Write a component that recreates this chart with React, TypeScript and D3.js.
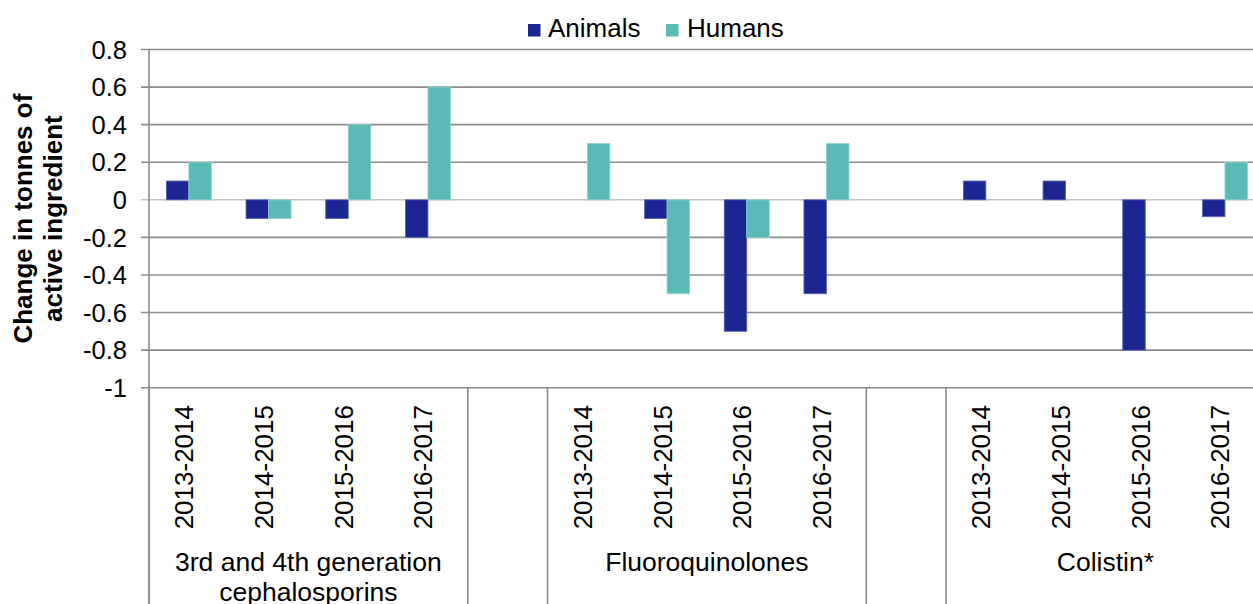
import React from "react";
import * as d3 from "d3";

const groupLabels: string[][] = [
  ["3rd and 4th generation", "cephalosporins"],
  ["Fluoroquinolones"],
  ["Colistin*"],
];
const periods = ["2013-2014", "2014-2015", "2015-2016", "2016-2017"];
const animals = [0.1, -0.1, -0.1, -0.2, 0, -0.1, -0.7, -0.5, 0.1, 0.1, -0.8, -0.09];
const humans = [0.2, -0.1, 0.4, 0.6, 0.3, -0.5, -0.2, 0.3, 0, 0, 0, 0.2];
const seriesNames = ["Animals", "Humans"];
const seriesColors = ["#1b2690", "#5bbab5"];
const seriesStroke = ["#5a62b4", "#8fd2ce"];
const yTicks = [0.8, 0.6, 0.4, 0.2, 0, -0.2, -0.4, -0.6, -0.8, -1];
const yTickLabels = ["0.8", "0.6", "0.4", "0.2", "0", "-0.2", "-0.4", "-0.6", "-0.8", "-1"];
const yTitle = ["Change in tonnes of", "active ingredient"];

const W = 1253;
const H = 604;
const FONT = "'Liberation Sans', Arial, Helvetica, sans-serif";

export default function App() {
  const left = 149;
  const slotW = 79.7;
  const top = 49.5;
  const bottom = 387.7;

  // slot keys: 4 per group, one empty slot between groups
  const slots: string[] = [];
  groupLabels.forEach((_, g) => {
    periods.forEach((p) => slots.push(`${g}|${p}`));
    if (g < groupLabels.length - 1) slots.push(`gap${g}`);
  });

  const x = d3
    .scaleBand<string>()
    .domain(slots)
    .range([left, left + slots.length * slotW])
    .padding(0);
  const inner = d3
    .scaleBand<string>()
    .domain(seriesNames)
    .range([0, x.bandwidth()])
    .paddingInner(0)
    .paddingOuter(0.771);
  const y = d3.scaleLinear().domain([-1, 0.8]).range([bottom, top]);

  const rows = groupLabels.flatMap((_, g) =>
    periods.map((p, i) => ({
      key: `${g}|${p}`,
      period: p,
      values: [animals[g * 4 + i], humans[g * 4 + i]],
    }))
  );

  // separators
  const seps: number[] = [left];
  slots.forEach((s) => {
    if (s.startsWith("gap")) {
      seps.push(x(s)!);
      seps.push(x(s)! + x.bandwidth());
    }
  });
  seps.push(left + slots.length * slotW);

  const groupCenters = groupLabels.map((_, g) => {
    const a = x(`${g}|${periods[0]}`)!;
    const b = x(`${g}|${periods[periods.length - 1]}`)! + x.bandwidth();
    return (a + b) / 2;
  });

  const legendItems = [
    { name: seriesNames[0], sx: 528, tx: 548 },
    { name: seriesNames[1], sx: 666, tx: 687 },
  ];

  return (
    <svg
      width={W}
      height={H}
      style={{ position: "absolute", left: 0, top: 0, background: "#fff" }}
      fontFamily={FONT}
    >
      <rect x={0} y={0} width={W} height={H} fill="#fff" />
      {/* gridlines */}
      {yTicks.map((t) => (
        <line
          key={t}
          x1={141}
          x2={W}
          y1={y(t)}
          y2={y(t)}
          stroke={t === 0 ? "#c4c4c4" : "#8c8c8c"}
          strokeWidth={1.6}
        />
      ))}
      {/* y axis line */}
      <line x1={left} x2={left} y1={top} y2={H} stroke="#8c8c8c" strokeWidth={1.6} />
      {/* category separators */}
      {seps.map((s, i) => (
        <line key={i} x1={s} x2={s} y1={bottom} y2={H} stroke="#8c8c8c" strokeWidth={1.6} />
      ))}
      {/* y tick labels */}
      {yTicks.map((t, i) => (
        <text
          key={t}
          x={127}
          y={y(t)}
          dy="0.36em"
          textAnchor="end"
          fontSize={25.5}
          fill="#000"
        >
          {yTickLabels[i]}
        </text>
      ))}
      {/* bars */}
      {rows.map((r) =>
        r.values.map((v, si) =>
          v === 0 ? null : (
            <rect
              key={`${r.key}-${si}`}
              x={x(r.key)! + inner(seriesNames[si])!}
              y={y(Math.max(0, v))}
              width={inner.bandwidth()}
              height={Math.abs(y(v) - y(0))}
              fill={seriesColors[si]}
              stroke={seriesStroke[si]}
              strokeWidth={0.8}
            />
          )
        )
      )}
      {/* period labels */}
      {rows.map((r) => {
        const cx = x(r.key)! + x.bandwidth() / 2 + 4.5;
        return (
          <text
            key={`lbl-${r.key}`}
            transform={`translate(${cx},405) rotate(-90)`}
            textAnchor="end"
            fontSize={26}
            fill="#000"
          >
            {r.period}
          </text>
        );
      })}
      {/* group labels */}
      {groupLabels.map((lines, g) =>
        lines.map((ln, li) => (
          <text
            key={`g-${g}-${li}`}
            x={groupCenters[g]}
            y={571 + li * 30}
            textAnchor="middle"
            fontSize={26.5}
            fill="#000"
          >
            {ln}
          </text>
        ))
      )}
      {/* y title */}
      <g transform={`translate(0,${(top + bottom) / 2}) rotate(-90)`}>
        {yTitle.map((ln, i) => (
          <text
            key={i}
            x={0}
            y={32 + i * 30}
            textAnchor="middle"
            fontSize={26}
            fontWeight="bold"
            fill="#000"
          >
            {ln}
          </text>
        ))}
      </g>
      {/* legend */}
      {legendItems.map((it, i) => (
        <g key={it.name}>
          <rect x={it.sx} y={24} width={12.5} height={12.5} fill={seriesColors[i]} />
          <text x={it.tx} y={37} fontSize={26} fill="#000">
            {it.name}
          </text>
        </g>
      ))}
    </svg>
  );
}
